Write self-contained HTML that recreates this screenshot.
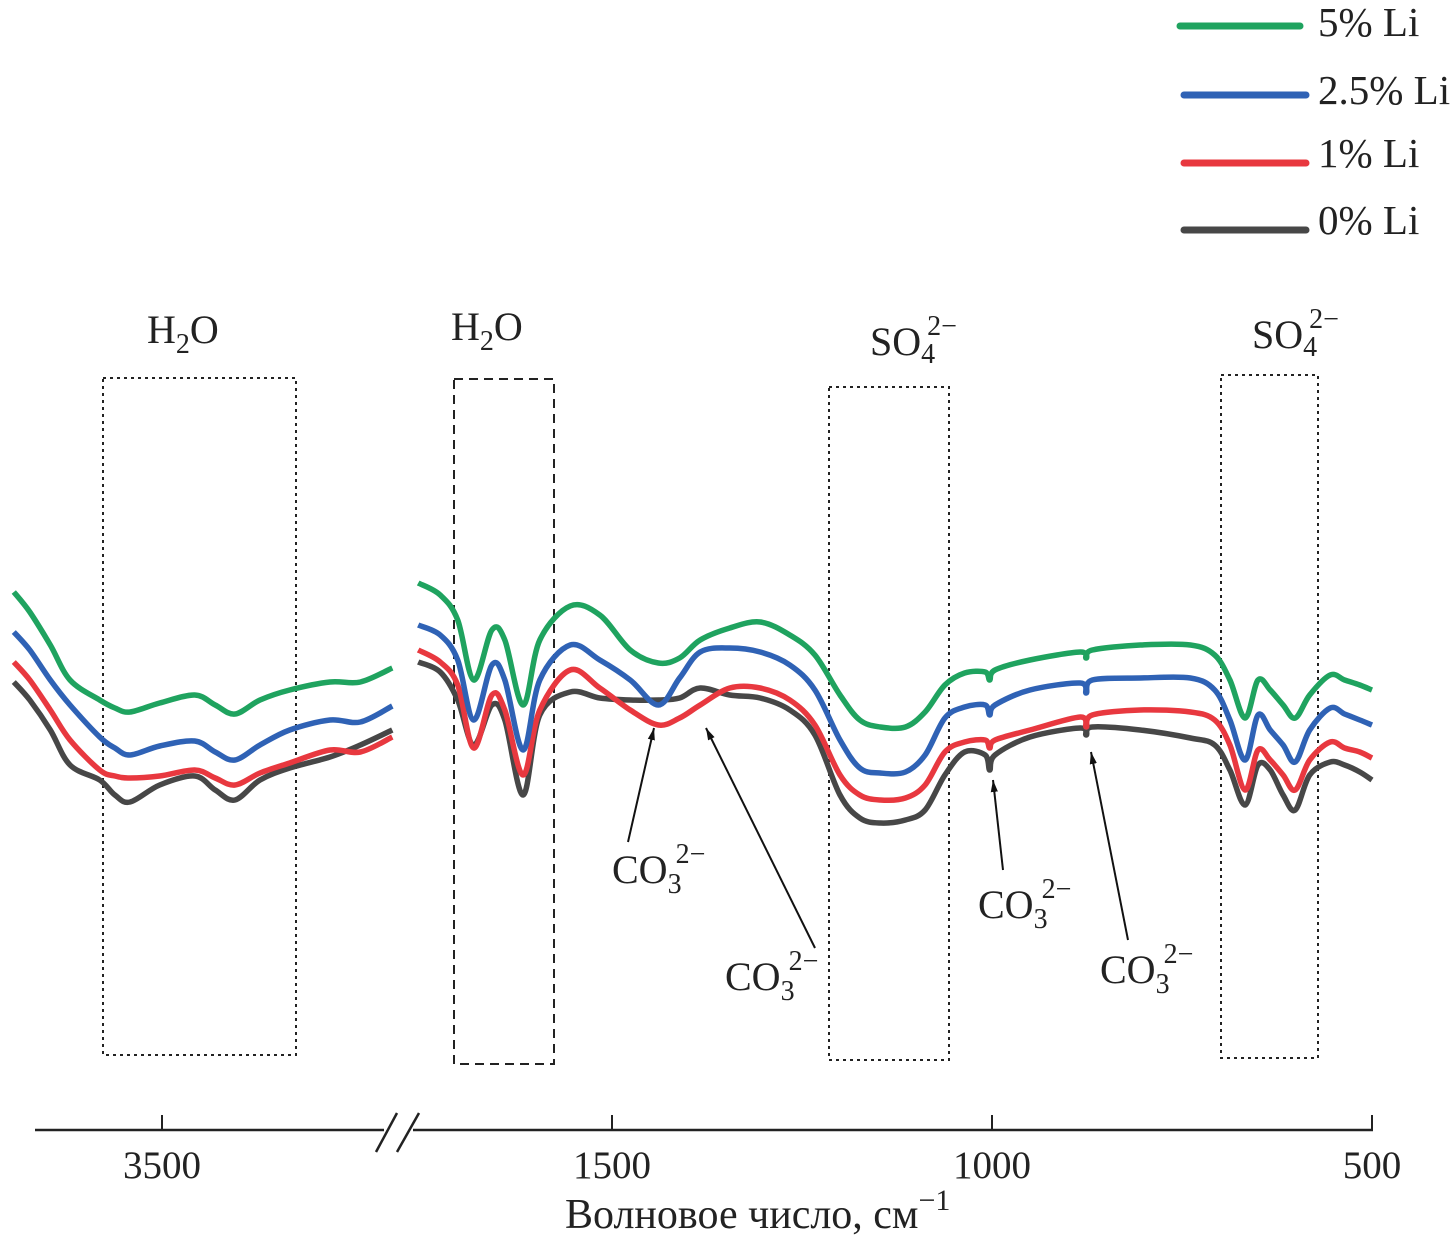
<!DOCTYPE html>
<html><head><meta charset="utf-8"><style>
html,body{margin:0;padding:0;background:#fff;}
svg{display:block;font-family:"Liberation Serif",serif;}
</style></head><body>
<svg id="chart" width="1452" height="1241" viewBox="0 0 1452 1241" xmlns="http://www.w3.org/2000/svg">
<defs><marker id="ah" markerWidth="12" markerHeight="20" refX="20" refY="6" orient="auto" markerUnits="userSpaceOnUse" viewBox="0 0 20 12"><path d="M0,0 L20,6 L0,12 z" fill="#111"/></marker></defs>
<g id="boxes" fill="none" stroke="#222" stroke-width="2">
  <rect x="103" y="378" width="193" height="677" stroke-dasharray="3,4"/>
  <rect x="454" y="379" width="100" height="685" stroke-dasharray="9,6"/>
  <rect x="829" y="387" width="120" height="673" stroke-dasharray="3,4"/>
  <rect x="1221" y="375" width="97" height="683" stroke-dasharray="3,4"/>
</g>
<g fill="#222" font-size="40">
  <text x="147" y="343">H<tspan font-size="28" dy="10">2</tspan><tspan dy="-10">O</tspan></text>
  <text x="451" y="340">H<tspan font-size="28" dy="10">2</tspan><tspan dy="-10">O</tspan></text>
  <text x="870" y="355">SO<tspan font-size="28" dy="8">4</tspan><tspan font-size="28" dx="-8" dy="-28">2−</tspan></text>
  <text x="1252" y="348">SO<tspan font-size="28" dy="8">4</tspan><tspan font-size="28" dx="-8" dy="-28">2−</tspan></text>
</g>
<g id="series"></g>
<g fill="#222" stroke="none" font-size="40">
  <line x1="628" y1="842" x2="654" y2="728" stroke="#111" stroke-width="2" marker-end="url(#ah)"/>
  <line x1="815" y1="948" x2="706" y2="728" stroke="#111" stroke-width="2" marker-end="url(#ah)"/>
  <line x1="1003" y1="870" x2="993" y2="780" stroke="#111" stroke-width="2" marker-end="url(#ah)"/>
  <line x1="1128" y1="940" x2="1091" y2="752" stroke="#111" stroke-width="2" marker-end="url(#ah)"/>
  <text x="612" y="883">CO<tspan font-size="28" dy="10">3</tspan><tspan font-size="28" dx="-6" dy="-30">2−</tspan></text>
  <text x="725" y="990">CO<tspan font-size="28" dy="10">3</tspan><tspan font-size="28" dx="-6" dy="-30">2−</tspan></text>
  <text x="978" y="918">CO<tspan font-size="28" dy="10">3</tspan><tspan font-size="28" dx="-6" dy="-30">2−</tspan></text>
  <text x="1100" y="983">CO<tspan font-size="28" dy="10">3</tspan><tspan font-size="28" dx="-6" dy="-30">2−</tspan></text>
</g>
<g stroke="#222" stroke-width="2.5" fill="none">
  <line x1="35" y1="1130" x2="384" y2="1130"/>
  <line x1="413" y1="1130" x2="1373" y2="1130"/>
  <line x1="376" y1="1152" x2="397" y2="1113"/>
  <line x1="397" y1="1152" x2="419" y2="1113"/>
</g>
<g id="ticks"></g>
<text x="565" y="1228" font-size="42" fill="#222">Волновое число, см<tspan font-size="30" dy="-18">−1</tspan></text>
<g font-size="41" fill="#222" stroke-linecap="round">
  <g><line x1="1180" y1="26" x2="1300" y2="26" stroke="#1fa35f" stroke-width="7"/><text x="1318" y="36">5% Li</text></g>
  <g><line x1="1184" y1="95" x2="1306" y2="95" stroke="#2f62b5" stroke-width="7"/><text x="1318" y="104">2.5% Li</text></g>
  <g><line x1="1184" y1="163" x2="1306" y2="163" stroke="#e8383f" stroke-width="7"/><text x="1318" y="167">1% Li</text></g>
  <g><line x1="1184" y1="230" x2="1306" y2="230" stroke="#474747" stroke-width="7"/><text x="1318" y="234">0% Li</text></g>
</g>
</svg>
<script>
// wavenumber grids (cm^-1)
const wnLeft = [3695,3674,3647,3621,3582,3562,3542,3503,3457,3430,3404,3371,3332,3279,3239,3197];
const wnRight = [1755,1726,1703,1682,1658,1641,1617,1595,1555,1516,1476,1439,1411,1384,1345,1305,1266,1233,1200,1174,1147,1114,1088,1062,1036,1009,1003,996,950,884,876,868,805,739,707,687,667,650,634,617,601,582,555,536,516,500];
// transmittance (arb. units)
const li5Left = [60.8,58.8,55.5,52,50,49.2,48.8,49.7,50.5,49.5,48.6,50,51,51.8,51.8,53.2];
const li25Left = [56.8,55,52,49.5,46.3,45.2,44.5,45.4,45.9,44.8,44,45.5,47,48,47.8,49.4];
const li1Left = [53.8,52,49,46,43,42.4,42.2,42.4,43,42.2,41.5,42.7,43.7,45,44.8,46.3];
const li0Left = [51.8,50,47,43.5,42,40.5,39.8,41.5,42.4,41,40,42,43.2,44.3,45.5,47];
const li5Right = [61.7,60.5,58,52,57,56,49.5,56,59.4,58.5,55,53.7,54.2,56,57.2,57.8,56.5,54.5,50.5,48,47.3,47.3,48.8,51.5,52.7,52.8,52,53,54,54.8,54.2,55,55.5,55.5,54.5,52,48.2,52,51,49.5,48.2,50.5,52.5,52,51.5,51];
const li25Right = [57.5,56.5,54,48,53.5,52,45,52,55.5,54,52,49.5,52.2,54.8,55.2,54.8,53.5,51,46,43.2,42.7,42.8,44.5,48.2,49.3,49.5,48.5,49.5,51,51.7,50.7,52,52.2,52.2,51,48,44,48.5,47,45.5,43.8,47,49.2,48.6,48,47.5];
const li1Right = [55,53.8,51.5,45.2,50.5,49,42.5,49,53,51.2,49,47.5,48.2,49.5,51.2,51.2,50,47.5,42.5,40.5,40,40.2,41.5,44.8,45.8,46,45.2,46,47,48.3,47.3,48.5,49,48.8,48,45.5,41,45,44,42.5,41,44,45.8,45.2,44.8,44.2];
const li0Right = [53.8,52.8,50,45.5,49.5,48,40.5,48.5,50.8,50.2,50,50,50.2,51.2,50.5,50.2,49,46.5,40.5,38.2,37.7,38,39,42.5,44.8,44.5,43,44.5,46.3,47.2,46.5,47.3,47,46.2,45.5,43,39.5,43.5,43,40.5,39,42.5,43.8,43.5,42.8,42];
const tickValues = [3500,1500,1000,500];
const tickLabels = ["3500","1500","1000","500"];

const NS = "http://www.w3.org/2000/svg";
function xLeft(w){ return 162 + (3500 - w) * 0.76; }
function xRight(w){ return 612 + (1500 - w) * 0.76; }
function xAny(w){ return w > 2500 ? xLeft(w) : xRight(w); }
function yScale(t){ return 1200 - t * 10; }

const seriesDefs = [
  {name:"li0", color:"#474747", L:li0Left, R:li0Right},
  {name:"li1", color:"#e8383f", L:li1Left, R:li1Right},
  {name:"li25", color:"#2f62b5", L:li25Left, R:li25Right},
  {name:"li5", color:"#1fa35f", L:li5Left, R:li5Right}
];
function pathFor(wns, vals, xf){
  let pts = wns.map((w,i)=>[xf(w), yScale(vals[i])]);
  let d = "M" + pts[0][0].toFixed(1) + "," + pts[0][1].toFixed(1);
  for(let i=0;i<pts.length-1;i++){
    const p0=pts[Math.max(0,i-1)],p1=pts[i],p2=pts[i+1],p3=pts[Math.min(pts.length-1,i+2)];
    const c1x=p1[0]+(p2[0]-p0[0])/6, c1y=p1[1]+(p2[1]-p0[1])/6;
    const c2x=p2[0]-(p3[0]-p1[0])/6, c2y=p2[1]-(p3[1]-p1[1])/6;
    d += " C"+c1x.toFixed(1)+","+c1y.toFixed(1)+" "+c2x.toFixed(1)+","+c2y.toFixed(1)+" "+p2[0].toFixed(1)+","+p2[1].toFixed(1);
  }
  return d;
}
const g = document.getElementById("series");
seriesDefs.forEach(s=>{
  [["left",wnLeft,s.L,xLeft],["right",wnRight,s.R,xRight]].forEach(([seg,w,v,xf])=>{
    const p = document.createElementNS(NS,"path");
    
    
    p.setAttribute("d", pathFor(w,v,xf));
    p.setAttribute("fill","none");
    p.setAttribute("stroke", s.color);
    p.setAttribute("stroke-width","5.5");
    p.setAttribute("stroke-linejoin","round");
    g.appendChild(p);
  });
});
const tg = document.getElementById("ticks");
tickValues.forEach((t,i)=>{
  const x = xAny(t);
  const l = document.createElementNS(NS,"line");
  
  
  l.setAttribute("x1",x); l.setAttribute("x2",x);
  l.setAttribute("y1",1130); l.setAttribute("y2",1115);
  l.setAttribute("stroke","#222"); l.setAttribute("stroke-width","2");
  tg.appendChild(l);
  const tx = document.createElementNS(NS,"text");
  
  
  tx.setAttribute("x",x); tx.setAttribute("y",1178);
  tx.setAttribute("text-anchor","middle");
  tx.setAttribute("font-size","39"); tx.setAttribute("fill","#222");
  tx.textContent = tickLabels[i];
  tg.appendChild(tx);
});
</script>
</body></html>
